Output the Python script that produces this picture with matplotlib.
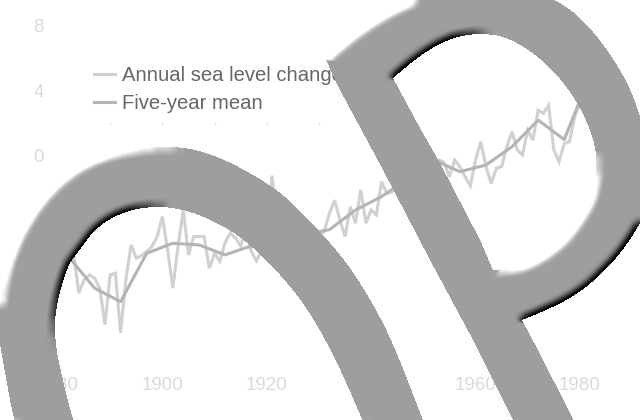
import numpy as np
import matplotlib
matplotlib.use("Agg")
import matplotlib.pyplot as plt
from matplotlib.path import Path

plt.rcParams['font.family'] = ['Liberation Sans', 'DejaVu Sans']

# ---- data ----
years = list(range(1880, 1984))
annual = [-6.5, -6.8, -6.4, -6.04, -8.37, -7.56, -7.26, -7.46, -8.07, -10.3,
          -7.26, -7.16, -10.8, -7.56, -5.43, -6.24, -6.1, -5.83, -5.53, -4.92,
          -3.7, -5.73, -8.07, -5.53, -3.29, -6.04, -4.92, -4.92, -4.92, -6.85,
          -5.94, -6.44, -5.3, -4.7, -5.0, -5.5, -4.5, -5.8, -6.4, -5.8,
          -4.5, -1.2, -4.0, -5.2, -4.6, -5.4, -4.2, -5.0, -5.5, -4.7,
          -4.9, -4.6, -3.5, -2.7, -3.9, -4.92, -3.1, -4.1, -2.07, -4.1,
          -3.3, -3.6, -1.57, -2.3, -2.2, -1.4, -2.0, -0.9, -1.5, -0.6,
          -1.0, -0.3, -0.9, -0.24, -0.4, -1.26, -0.24, -0.65, -1.26, -1.83,
          -0.24, 0.87, -0.65, -1.67, -0.75, -0.65, 0.57, 1.48, 0.37, 0.06,
          1.58, 0.97, 2.8, 2.6, 3.1, 0.37, -0.35, 0.76, 0.87, 2.4,
          3.2, 4.6, 5.2, 4.8]
mean_years = [1882, 1887, 1892, 1897, 1902, 1907, 1912, 1917, 1922, 1927,
              1932, 1937, 1942, 1947, 1952, 1957, 1962, 1967, 1972, 1977, 1982]
mean_vals = [-6.14, -8.07, -8.9, -5.94, -5.33, -5.43, -6.04, -5.5, -4.7, -4.8,
             -4.5, -3.3, -2.48, -1.4, -0.24, -0.96, -0.55, 0.57, 2.19, 1.0, 5.0]
y_ticks = [0, 4, 8]
x_ticks = [1880, 1900, 1920, 1940, 1960, 1980]
decade_marks = [1890, 1900, 1910, 1920, 1930]
labels = ["Annual sea level change", "Five-year mean"]

# overlay lettering outlines, in picture pixels
arch_outer = [(22, 445), (13, 417), (4, 367), (-3, 327), (6, 260), (35, 205), (73, 168),
              (113, 151), (173, 145), (217, 155), (273, 186), (297, 208), (340, 253),
              (368, 295), (392, 340), (423, 420), (432, 445)]
arch_inner = [(370, 445), (363, 420), (330, 347), (300, 297), (260, 253), (227, 227),
              (180, 207), (137, 207), (100, 223), (77, 253), (67, 267), (55, 310),
              (55, 343), (62, 377), (72, 417), (82, 445)]
p_top = [(325, 58), (365, 25), (410, 0), (490, -25), (560, 0), (593, 30), (623, 73), (640, 113),
         (652, 165), (648, 205), (637, 230), (613, 263), (580, 293), (547, 310), (522, 320)]
p_right = [(522, 320), (538, 350), (570, 413), (585, 445)]
p_left = [(525, 445), (513, 420), (473, 340), (430, 260), (383, 170), (340, 90), (325, 58)]
c_round = [(393, 78), (423, 53), (453, 37), (483, 33), (510, 38), (543, 60), (570, 90),
           (590, 127), (598, 160), (593, 195), (578, 222), (557, 247), (523, 267), (493, 270)]
c_stem = [(493, 270), (480, 240), (440, 163), (420, 128), (393, 78)]


def smooth(pts, n=3):
    a = np.array(pts, float)
    for _ in range(n):
        q = 0.75 * a[:-1] + 0.25 * a[1:]
        r = 0.25 * a[:-1] + 0.75 * a[1:]
        m = np.empty((2 * len(q), 2))
        m[0::2], m[1::2] = q, r
        a = np.vstack([a[0], m, a[-1]])
    return a


def box(a, r):
    for axis in (0, 1):
        pad = [(0, 0), (0, 0)]
        pad[axis] = (r + 1, r)
        c = np.cumsum(np.pad(a, pad, mode='edge'), axis=axis)
        hi = np.take(c, range(2 * r + 1, c.shape[axis]), axis=axis)
        lo = np.take(c, range(0, c.shape[axis] - 2 * r - 1), axis=axis)
        a = (hi - lo) / (2 * r + 1)
    return a


W, H = 640, 420
fig = plt.figure(figsize=(6.4, 4.2), dpi=100, facecolor='white')
L, R, T, B = 58, 606, 25, 370
ax = fig.add_axes([L / W, 1 - B / H, (R - L) / W, (B - T) / H])
ax.set_xlim(1880, 1985)
ax.set_ylim(-13.07, 8)
for s in ax.spines.values():
    s.set_visible(False)
line_a, = ax.plot(years, annual, color='#d0d0d0', lw=2.2, solid_joinstyle='miter', label=labels[0])
line_m, = ax.plot(mean_years, mean_vals, color='#b4b4b4', lw=2.2, label=labels[1])
ax.vlines(decade_marks, 1.88, 2.08, color='#e2e2e2', lw=1)
ax.set_xticks(x_ticks)
ax.set_yticks(y_ticks)
ax.tick_params(length=0, labelcolor='#dadada', labelsize=13.5)
ax.tick_params(axis='x', pad=5)
ax.tick_params(axis='y', pad=10)
leg = ax.legend(handles=[line_a, line_m], loc='upper left', frameon=False,
                bbox_to_anchor=(76 / W, 1 - 48 / H), bbox_transform=fig.transFigure,
                fontsize=14.6, labelcolor='#666666', handlelength=1.0, handletextpad=0.36,
                labelspacing=0.42)

# lettering laid over the chart
gx, gy = np.meshgrid(np.arange(W) + 0.5, np.arange(H) + 0.5)
pix = np.column_stack([gx.ravel(), gy.ravel()])
inside = lambda poly: Path(poly).contains_points(pix).reshape(H, W)
arch = inside(np.vstack([smooth(arch_outer), smooth(arch_inner)]))
pee = inside(np.vstack([smooth(p_top), np.array(p_right), np.array(p_left)]))
hole = inside(np.vstack([smooth(c_round), np.array(c_stem)]))
mask = (arch | pee) & ~hole

blur = box(box(mask.astype(float), 4), 4)
dy, dx = np.gradient(blur)
g = np.hypot(dx, dy)
along = 0.707 * (dx + dy) / np.maximum(g, 1e-6)
weight = np.sign(along) * np.clip((np.abs(along) - 0.6) / 0.3, 0, 1)
shade = np.clip(0.62 + 6.0 * g * weight, 0, 1)
rgba = np.dstack([shade, shade, shade, mask.astype(float)])
ov = fig.add_axes([0, 0, 1, 1], facecolor='none')
ov.imshow(rgba, extent=(0, W, H, 0), interpolation='nearest', aspect='auto', zorder=5)
ov.axis('off')

fig.savefig('out.png', dpi=100)
